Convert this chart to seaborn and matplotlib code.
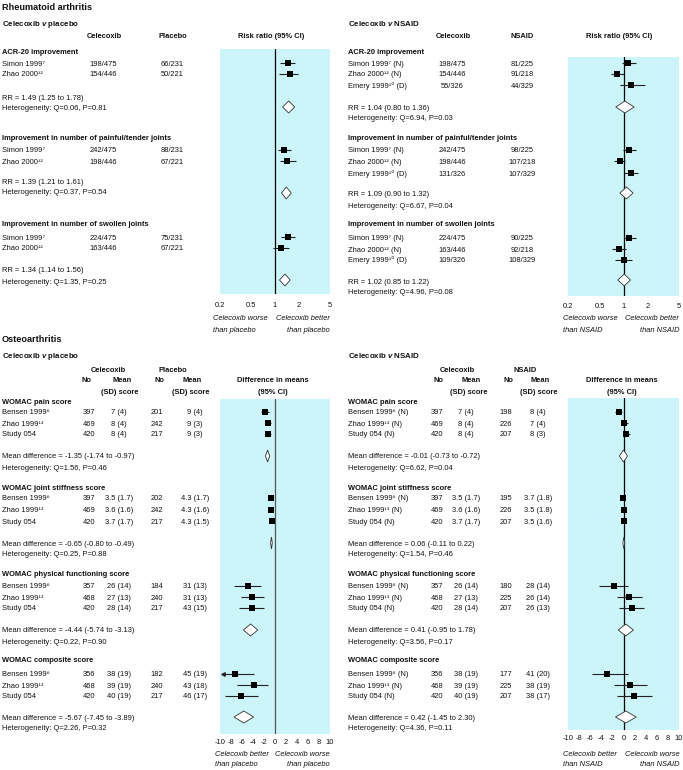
import numpy as np
import pandas as pd
import matplotlib
matplotlib.use("Agg")
import matplotlib.pyplot as plt
from matplotlib.ticker import NullLocator
import seaborn as sns

# ---------------------------------------------------------------------
# Data: rheumatoid arthritis (risk ratios)
# ---------------------------------------------------------------------
ra_outcomes = ["ACR-20 improvement",
               "Improvement in number of painful/tender joints",
               "Improvement in number of swollen joints"]

ra_pl_studies = ["Simon 1999⁷", "Zhao 2000¹²"]
ra_pl_cel = [["198/475", "154/446"], ["242/475", "198/446"], ["224/475", "163/446"]]
ra_pl_ctl = [["66/231", "50/221"], ["88/231", "67/221"], ["75/231", "67/221"]]
ra_pl_rr = [[1.46, 1.53], [1.31, 1.43], [1.45, 1.19]]
ra_pl_lo = [[1.16, 1.12], [1.10, 1.16], [1.18, 0.94]]
ra_pl_hi = [[1.80, 1.96], [1.58, 1.83], [1.79, 1.52]]
ra_pl_pool = [1.49, 1.39, 1.34]
ra_pl_plo = [1.25, 1.21, 1.14]
ra_pl_phi = [1.78, 1.61, 1.56]
ra_pl_het = ["Q=0.06, P=0.81", "Q=0.37, P=0.54", "Q=1.35, P=0.25"]

ra_ns_studies = ["Simon 1999⁷ (N)", "Zhao 2000¹² (N)", "Emery 1999¹⁰ (D)"]
ra_ns_cel = [["198/475", "154/446", "55/326"], ["242/475", "198/446", "131/326"],
             ["224/475", "163/446", "109/326"]]
ra_ns_ctl = [["81/225", "91/218", "44/329"], ["98/225", "107/218", "107/329"],
             ["90/225", "92/218", "108/329"]]
ra_ns_rr = [[1.13, 0.82, 1.25], [1.17, 0.90, 1.24], [1.18, 0.87, 1.00]]
ra_ns_lo = [[0.96, 0.69, 0.90], [0.99, 0.76, 1.00], [1.00, 0.72, 0.79]]
ra_ns_hi = [[1.42, 1.00, 1.84], [1.42, 1.03, 1.53], [1.42, 1.06, 1.29]]
ra_ns_pool = [1.04, 1.09, 1.02]
ra_ns_plo = [0.80, 0.90, 0.85]
ra_ns_phi = [1.36, 1.32, 1.22]
ra_ns_het = ["Q=6.94, P=0.03", "Q=6.67, P=0.04", "Q=4.96, P=0.08"]

# ---------------------------------------------------------------------
# Data: osteoarthritis (differences in means)
# ---------------------------------------------------------------------
oa_outcomes = ["WOMAC pain score", "WOMAC joint stiffness score",
               "WOMAC physical functioning score", "WOMAC composite score"]

oa_cel_n = [[397, 469, 420], [397, 469, 420], [357, 468, 420], [356, 468, 420]]
oa_cel_mean = [["7 (4)", "8 (4)", "8 (4)"], ["3.5 (1.7)", "3.6 (1.6)", "3.7 (1.7)"],
               ["26 (14)", "27 (13)", "28 (14)"], ["38 (19)", "39 (19)", "40 (19)"]]

oa_pl_studies = ["Bensen 1999⁶", "Zhao 1999¹³", "Study 054"]
oa_pl_n = [[201, 242, 217], [202, 242, 217], [184, 240, 217], [182, 240, 217]]
oa_pl_mean = [["9 (4)", "9 (3)", "9 (3)"], ["4.3 (1.7)", "4.3 (1.6)", "4.3 (1.5)"],
              ["31 (13)", "31 (13)", "43 (15)"], ["45 (19)", "43 (18)", "46 (17)"]]
oa_pl_md = [[-1.8, -1.2, -1.3], [-0.8, -0.7, -0.6], [-5.0, -4.1, -4.2], [-7.3, -3.9, -6.1]]
oa_pl_lo = [[-2.5, -1.7, -1.9], [-0.95, -0.85, -0.75], [-7.4, -6.2, -6.5], [-11.0, -6.9, -9.1]]
oa_pl_hi = [[-1.1, -0.7, -0.8], [-0.65, -0.55, -0.45], [-2.5, -2.0, -2.0], [-3.9, -1.2, -3.1]]
oa_pl_pool = [-1.35, -0.65, -4.44, -5.67]
oa_pl_plo = [-1.74, -0.80, -5.74, -7.45]
oa_pl_phi = [-0.97, -0.49, -3.13, -3.89]
oa_pl_summary = ["-1.35 (-1.74 to -0.97)", "-0.65 (-0.80 to -0.49)",
                 "-4.44 (-5.74 to -3.13)", "-5.67 (-7.45 to -3.89)"]
oa_pl_het = ["Q=1.56, P=0.46", "Q=0.25, P=0.88", "Q=0.22, P=0.90", "Q=2.26, P=0.32"]

oa_ns_studies = ["Bensen 1999⁶ (N)", "Zhao 1999¹³ (N)", "Study 054 (N)"]
oa_ns_n = [[198, 226, 207], [195, 226, 207], [180, 225, 207], [177, 225, 207]]
oa_ns_mean = [["8 (4)", "7 (4)", "8 (3)"], ["3.7 (1.8)", "3.5 (1.8)", "3.5 (1.6)"],
              ["28 (14)", "26 (14)", "26 (13)"], ["41 (20)", "38 (19)", "38 (17)"]]
oa_ns_md = [[-0.9, 0.0, 0.4], [-0.1, 0.1, 0.0], [-1.8, 1.0, 1.5], [-2.9, 1.2, 1.9]]
oa_ns_lo = [[-1.5, -0.4, -0.1], [-0.25, -0.1, -0.2], [-4.4, -1.2, -0.9], [-5.6, -1.7, -1.1]]
oa_ns_hi = [[-0.3, 0.9, 1.2], [0.05, 0.3, 0.2], [0.9, 3.3, 3.7], [0.9, 4.3, 5.1]]
oa_ns_pool = [-0.01, 0.06, 0.41, 0.42]
oa_ns_plo = [-0.73, -0.11, -0.95, -1.45]
oa_ns_phi = [0.72, 0.22, 1.78, 2.30]
oa_ns_summary = ["-0.01 (-0.73 to -0.72)", "0.06 (-0.11 to 0.22)",
                 "0.41 (-0.95 to 1.78)", "0.42 (-1.45 to 2.30)"]
oa_ns_het = ["Q=6.62, P=0.04", "Q=1.54, P=0.46", "Q=3.56, P=0.17", "Q=4.36, P=0.11"]

rr_ticks = [0.2, 0.5, 1, 2, 5]
md_ticks = [-10, -8, -6, -4, -2, 0, 2, 4, 6, 8, 10]

# ---------------------------------------------------------------------
# Layout (pixel rows)
# ---------------------------------------------------------------------
W, H = 683, 770
CYAN = "#cbf5f8"
FS = 5.4

ra_head_y = [51, 137, 224]
ra_pl_rows = [[63, 74], [150, 161], [237, 248]]
ra_pl_rr_y = [97, 182, 270]
ra_pl_het_y = [107, 192, 281]
ra_ns_rows = [[63, 74, 85], [150, 161, 173], [238, 249, 260]]
ra_ns_rr_y = [107, 194, 281]
ra_ns_het_y = [117, 205, 292]
ra_diamond_y = [107, 193, 280]

oa_head_y = [401, 487, 574, 660]
oa_rows = [[412, 423, 434], [498, 510, 521], [586, 597, 608], [674, 685, 696]]
oa_md_y = [456, 543, 630, 717]
oa_het_y = [467, 554, 641, 727]

sns.set_style("white")
plt.rcParams["font.family"] = ["Liberation Sans", "DejaVu Sans"]
plt.rcParams["mathtext.fontset"] = "custom"
plt.rcParams["mathtext.rm"] = "Liberation Sans"
plt.rcParams["mathtext.it"] = "Liberation Sans:italic:bold"
plt.rcParams["mathtext.bf"] = "Liberation Sans:bold"

fig = plt.figure(figsize=(W / 100, H / 100), dpi=100)
tx = fig.add_axes([0, 0, 1, 1])
tx.set_xlim(0, W)
tx.set_ylim(H, 0)
tx.axis("off")


def txt(x, y, s, ha="left", weight="normal", size=FS, style="normal"):
    tx.text(x, y + 2.5, s, ha=ha, va="baseline", fontsize=size,
            fontweight=weight, fontstyle=style, color="#111")


def forest(box, log, rows, est, lo, hi, pool, plo, phi, pool_y, zero_color="black", pad=4):
    x0, y0, x1, y1 = box
    ax = fig.add_axes([x0 / W, 1 - y1 / H, (x1 - x0) / W, (y1 - y0) / H])
    ax.set_facecolor(CYAN)
    if log:
        ax.set_xscale("log")
        xmin, xmax, ref, ticks = 0.2, 5, 1, rr_ticks
    else:
        xmin, xmax, ref, ticks = -10, 10, 0, md_ticks
    recs = []
    for ys, e, l, h in zip(rows, est, lo, hi):
        for yy, ee, ll, hh in zip(ys, e, l, h):
            recs.append({"y": yy, "est": ee, "lo": ll, "hi": hh})
    df = pd.DataFrame(recs)
    edge = -9.5 if not log else 0.21
    df["lo_c"] = df["lo"].clip(lower=edge)
    ax.axvline(ref, color=zero_color, lw=0.9, zorder=1)
    ax.hlines(df["y"], df["lo_c"], df["hi"], color="#222", lw=0.8, zorder=2)
    cut = df[df["lo"] < edge]
    if len(cut):
        ax.plot(cut["lo_c"], cut["y"], marker="<", ms=2.5, color="#222", ls="none", zorder=2)
    sns.scatterplot(data=df, x="est", y="y", marker="s", s=15, color="black",
                    linewidth=0, ax=ax, legend=False, zorder=3)
    for p, a, b, yd in zip(pool, plo, phi, pool_y):
        ax.fill([a, p, b, p], [yd, yd - 6, yd, yd + 6], facecolor="white",
                edgecolor="#333", lw=0.6, zorder=3)
    ax.set_xlim(xmin, xmax)
    ax.set_ylim(y1, y0)
    ax.set_xticks(ticks)
    ax.set_xticklabels([f"{t:g}" for t in ticks])
    ax.xaxis.set_minor_locator(NullLocator())
    ax.set_yticks([])
    ax.set_xlabel("")
    ax.set_ylabel("")
    ax.tick_params(axis="x", length=0, pad=pad, labelsize=FS, labelcolor="#111")
    for s in ax.spines.values():
        s.set_visible(False)
    return ax


# ---------------------------------------------------------------------
# Rheumatoid arthritis
# ---------------------------------------------------------------------
txt(2, 8, "Rheumatoid arthritis", weight="bold", size=6.6)
txt(2, 23, "Celecoxib $v$ placebo", weight="bold", size=5.7)
txt(348, 23, "Celecoxib $v$ NSAID", weight="bold", size=5.7)
for x, s in [(104, "Celecoxib"), (173, "Placebo"), (271, "Risk ratio (95% CI)"),
             (453, "Celecoxib"), (522, "NSAID"), (619, "Risk ratio (95% CI)")]:
    txt(x, 35, s, ha="center", weight="bold")

for k, name in enumerate(ra_outcomes):
    txt(2, ra_head_y[k], name, weight="bold")
    for j, yy in enumerate(ra_pl_rows[k]):
        txt(2, yy, ra_pl_studies[j])
        txt(103, yy, ra_pl_cel[k][j], ha="center")
        txt(172, yy, ra_pl_ctl[k][j], ha="center")
    txt(2, ra_pl_rr_y[k], f"RR = {ra_pl_pool[k]:.2f} ({ra_pl_plo[k]:.2f} to {ra_pl_phi[k]:.2f})")
    txt(2, ra_pl_het_y[k], "Heterogeneity: " + ra_pl_het[k])

    txt(348, ra_head_y[k], name, weight="bold")
    for j, yy in enumerate(ra_ns_rows[k]):
        txt(348, yy, ra_ns_studies[j])
        txt(452, yy, ra_ns_cel[k][j], ha="center")
        txt(522, yy, ra_ns_ctl[k][j], ha="center")
    txt(348, ra_ns_rr_y[k], f"RR = {ra_ns_pool[k]:.2f} ({ra_ns_plo[k]:.2f} to {ra_ns_phi[k]:.2f})")
    txt(348, ra_ns_het_y[k], "Heterogeneity: " + ra_ns_het[k])

forest((220, 49, 330, 294), True, ra_pl_rows, ra_pl_rr, ra_pl_lo, ra_pl_hi,
       ra_pl_pool, ra_pl_plo, ra_pl_phi, ra_diamond_y, pad=6)
forest((568, 57, 679, 296), True, ra_ns_rows, ra_ns_rr, ra_ns_lo, ra_ns_hi,
       ra_ns_pool, ra_ns_plo, ra_ns_phi, ra_diamond_y, pad=5)

txt(213, 318, "Celecoxib worse", style="italic")
txt(213, 330, "than placebo", style="italic")
txt(330, 318, "Celecoxib better", ha="right", style="italic")
txt(330, 330, "than placebo", ha="right", style="italic")
txt(563, 318, "Celecoxib worse", style="italic")
txt(563, 330, "than NSAID", style="italic")
txt(679, 318, "Celecoxib better", ha="right", style="italic")
txt(679, 330, "than NSAID", ha="right", style="italic")

# ---------------------------------------------------------------------
# Osteoarthritis
# ---------------------------------------------------------------------
txt(2, 340, "Osteoarthritis", weight="bold", size=6.6)
txt(2, 355, "Celecoxib $v$ placebo", weight="bold", size=5.7)
txt(348, 355, "Celecoxib $v$ NSAID", weight="bold", size=5.7)

for cname, cols in [("Placebo", (108, 173, 86, 122, 159, 192, 273)),
                    ("NSAID", (457, 525, 438, 471, 508, 540, 622))]:
    a, b, n1, m1, n2, m2, d = cols
    txt(a, 369, "Celecoxib", ha="center", weight="bold")
    txt(b, 369, cname, ha="center", weight="bold")
    txt(n1, 380, "No", ha="center", weight="bold")
    txt(m1, 380, "Mean", ha="center", weight="bold")
    txt(n2, 380, "No", ha="center", weight="bold")
    txt(m2, 380, "Mean", ha="center", weight="bold")
    txt(m1 - 2, 391, "(SD) score", ha="center", weight="bold")
    txt(m2 - 1, 391, "(SD) score", ha="center", weight="bold")
    txt(d, 380, "Difference in means", ha="center", weight="bold")
    txt(d, 391, "(95% CI)", ha="center", weight="bold")

for k, name in enumerate(oa_outcomes):
    txt(2, oa_head_y[k], name, weight="bold")
    txt(348, oa_head_y[k], name, weight="bold")
    for j, yy in enumerate(oa_rows[k]):
        txt(2, yy, oa_pl_studies[j])
        txt(89, yy, str(oa_cel_n[k][j]), ha="center")
        txt(119, yy, oa_cel_mean[k][j], ha="center")
        txt(157, yy, str(oa_pl_n[k][j]), ha="center")
        txt(195, yy, oa_pl_mean[k][j], ha="center")

        txt(348, yy, oa_ns_studies[j])
        txt(437, yy, str(oa_cel_n[k][j]), ha="center")
        txt(466, yy, oa_cel_mean[k][j], ha="center")
        txt(506, yy, str(oa_ns_n[k][j]), ha="center")
        txt(538, yy, oa_ns_mean[k][j], ha="center")
    txt(2, oa_md_y[k], "Mean difference = " + oa_pl_summary[k])
    txt(2, oa_het_y[k], "Heterogeneity: " + oa_pl_het[k])
    txt(348, oa_md_y[k], "Mean difference = " + oa_ns_summary[k])
    txt(348, oa_het_y[k], "Heterogeneity: " + oa_ns_het[k])

forest((220, 399, 330, 734), False, oa_rows, oa_pl_md, oa_pl_lo, oa_pl_hi,
       oa_pl_pool, oa_pl_plo, oa_pl_phi, oa_md_y, zero_color="#555", pad=3.5)
forest((568, 398, 679, 730), False, oa_rows, oa_ns_md, oa_ns_lo, oa_ns_hi,
       oa_ns_pool, oa_ns_plo, oa_ns_phi, oa_md_y, pad=3.5)

txt(215, 753, "Celecoxib better", style="italic")
txt(215, 764, "than placebo", style="italic")
txt(330, 753, "Celecoxib worse", ha="right", style="italic")
txt(330, 764, "than placebo", ha="right", style="italic")
txt(563, 753, "Celecoxib better", style="italic")
txt(563, 764, "than NSAID", style="italic")
txt(680, 753, "Celecoxib worse", ha="right", style="italic")
txt(680, 764, "than NSAID", ha="right", style="italic")

fig.savefig("out.png", dpi=100, facecolor="white")
